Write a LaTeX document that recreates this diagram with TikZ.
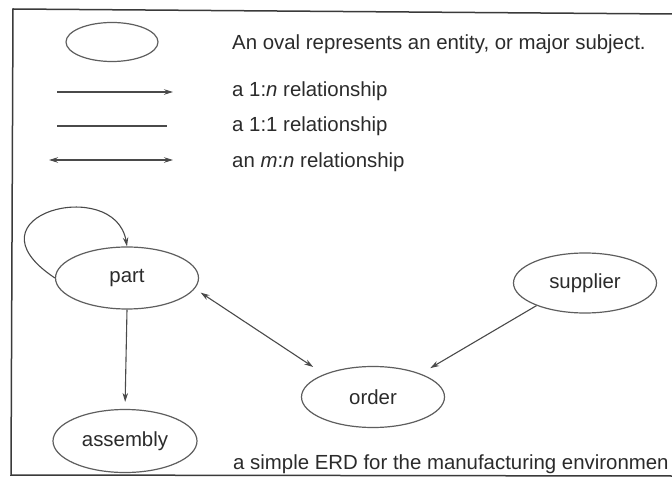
\documentclass[tikz,border=0pt]{standalone}
\usepackage{fontspec}
\setmainfont{Liberation Sans}
\usetikzlibrary{arrows.meta,shapes.geometric}
\definecolor{linegray}{HTML}{5E5E5E}
\definecolor{arrgray}{HTML}{4A4A4A}
\definecolor{txtgray}{HTML}{2B2B2B}
\definecolor{framegray}{HTML}{3A3A3A}
\newcommand{\myfs}{\fontsize{20.4}{24}\selectfont}
\begin{document}
\begin{tikzpicture}[x=1pt,y=-1pt,
  ent/.style={ellipse,draw=linegray,line width=1.2pt,inner sep=0pt,font=\myfs,text=txtgray},
  lab/.style={inner sep=0pt,font=\myfs,text=txtgray,anchor=base west},
  rel/.style={draw=arrgray,line width=1.1pt},
  tip/.style={-{Stealth[length=9pt,width=5.5pt]}},
  both/.style={{Stealth[length=9pt,width=5.5pt]}-{Stealth[length=9pt,width=5.5pt]}},
  framepen/.style={draw=framegray,line width=1.5pt}]
\fill[white] (0,0) rectangle (672,478);
\useasboundingbox (0,0) rectangle (672,478);
% frame
\coordinate (f1) at (672,14);
\coordinate (f2) at (13,9);
\coordinate (f3) at (11,475);
\coordinate (f4) at (672,476);
\draw[framepen] (f1) -- (f2) -- (f3) -- (f4);
% legend
\node[ent,minimum width=92pt,minimum height=39pt] (leg) at (112,42) {};
\node[lab] (t0) at (232,50) {An oval represents an entity, or major subject.};
\coordinate (a1) at (57,92);  \coordinate (b1) at (173,92);
\draw[rel,tip] (a1) -- (b1);
\node[lab] (t1) at (232,97) {a 1:\textit{n} relationship};
\coordinate (a2) at (57,126); \coordinate (b2) at (167,126);
\draw[rel] (a2) -- (b2);
\node[lab] (t2) at (232,132) {a 1:1 relationship};
\coordinate (a3) at (49,160); \coordinate (b3) at (173,160);
\draw[rel,both] (a3) -- (b3);
\node[lab] (t3) at (232,168) {an \textit{m}:\textit{n} relationship};
% entities
\node[ent,minimum width=143pt,minimum height=62pt] (part) at (127,278) {part};
\node[ent,minimum width=144pt,minimum height=63pt] (asm) at (125,441) {assembly};
\node[ent,minimum width=143pt,minimum height=61pt] (order) at (373,397) {order};
\node[ent,minimum width=143pt,minimum height=60pt] (sup) at (585,283) {supplier};
% connectors
\draw[rel,tip] (part.west) .. controls (-40,215) and (115,175) .. (part.north);
\draw[rel,tip,shorten >=7pt] (part.south) -- (asm.north);
\draw[rel,both,shorten <=7pt,shorten >=13pt] (part.-9) -- (order.155);
\draw[rel,tip,shorten >=11pt] (sup.205) -- (order.26);
% caption
\node[lab] (cap) at (233,469) {a simple ERD for the manufacturing environmen};
\end{tikzpicture}
\end{document}
